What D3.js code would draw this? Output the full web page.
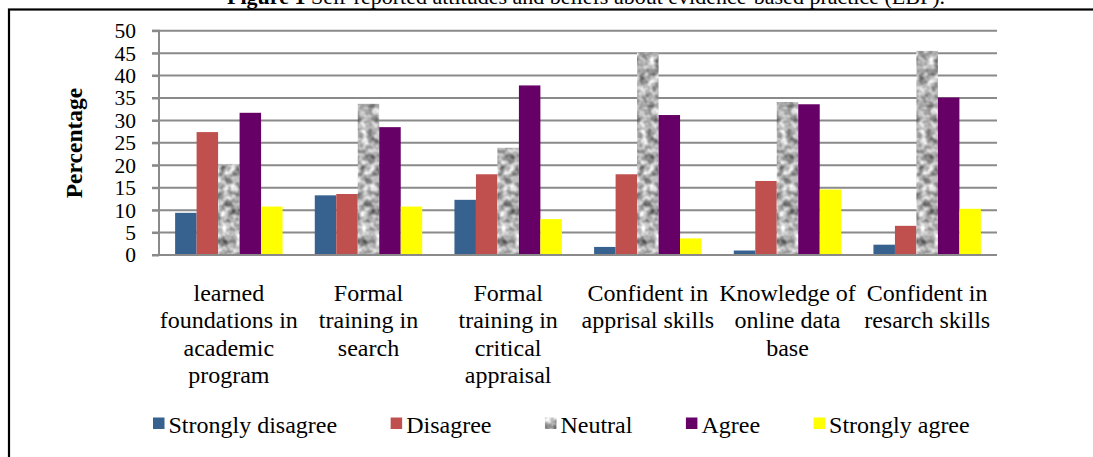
<!DOCTYPE html>
<html>
<head>
<meta charset="utf-8">
<script src="https://cdn.jsdelivr.net/npm/d3@7"></script>
<style>
  html, body { margin: 0; padding: 0; background: #fff; }
  svg { display: block; }
  text { font-family: "Liberation Serif", "Times New Roman", serif; fill: #000; }
</style>
</head>
<body>
<svg id="chart" width="1093" height="457"></svg>
<script>
// Survey items (x-axis categories), one label line per array entry
const categories = [
  ["learned", "foundations in", "academic", "program"],
  ["Formal", "training in", "search"],
  ["Formal", "training in", "critical", "appraisal"],
  ["Confident in", "apprisal skills"],
  ["Knowledge of", "online data", "base"],
  ["Confident in", "resarch skills"]
];

// Response levels
const seriesNames = ["Strongly disagree", "Disagree", "Neutral", "Agree", "Strongly agree"];

// Percentages per response level, in category order
const stronglyDisagree = [9.4, 13.3, 12.3, 1.8, 1.0, 2.3];
const disagree         = [27.4, 13.6, 18.0, 18.0, 16.5, 6.5];
const neutral          = [20.3, 33.7, 23.9, 45.1, 34.1, 45.5];
const agree            = [31.7, 28.5, 37.8, 31.2, 33.6, 35.1];
const stronglyAgree    = [10.8, 10.8, 8.0, 3.7, 14.6, 10.3];

const yTicks = [0, 5, 10, 15, 20, 25, 30, 35, 40, 45, 50];

const seriesValues = [stronglyDisagree, disagree, neutral, agree, stronglyAgree];
const fills = ["#37618f", "#c0504d", "url(#granite)", "#660066", "#ffff00"];

const svg = d3.select("#chart");

// Granite-like grey texture for the "Neutral" bars
const defs = svg.append("defs");
const flt = defs.append("filter").attr("id", "graniteNoise")
  .attr("x", 0).attr("y", 0).attr("width", 1).attr("height", 1)
  .attr("filterUnits", "objectBoundingBox")
  .attr("color-interpolation-filters", "sRGB");
flt.append("feTurbulence").attr("type", "fractalNoise")
  .attr("baseFrequency", 0.13).attr("numOctaves", 2).attr("seed", 7).attr("result", "noise");
flt.append("feColorMatrix").attr("in", "noise").attr("type", "matrix")
  .attr("values", "1.05 0 0 0 0.17  1.05 0 0 0 0.17  1.05 0 0 0 0.17  0 0 0 0 1")
  .attr("result", "grey");
flt.append("feGaussianBlur").attr("in", "grey").attr("stdDeviation", 0.6).attr("result", "soft");
flt.append("feComposite").attr("in", "soft").attr("in2", "SourceGraphic").attr("operator", "in");

const pat = defs.append("pattern").attr("id", "granite")
  .attr("patternUnits", "userSpaceOnUse").attr("width", 1093).attr("height", 457);
pat.append("rect").attr("width", 1093).attr("height", 457).attr("fill", "#bbb")
  .attr("filter", "url(#graniteNoise)");

// Figure caption, partly clipped by the top edge
const title = svg.append("text").attr("x", 586).attr("y", 4)
  .attr("text-anchor", "middle").style("font-size", "22px");
title.append("tspan").style("font-weight", "bold").text("Figure 1");
title.append("tspan").text(" Self-reported attitudes and beliefs about evidence-based practice (EBP).");

// Frame around the chart
svg.append("rect").attr("x", 9).attr("y", 9.5).attr("width", 1100).attr("height", 470)
  .attr("fill", "none").attr("stroke", "#000").attr("stroke-width", 2.2);

// Scales
const x0 = d3.scaleBand().domain(d3.range(categories.length)).range([159, 997]).padding(0);
const x1 = d3.scaleBand().domain(d3.range(seriesNames.length))
  .range([0, x0.bandwidth()]).paddingInner(0).paddingOuter(0.75);
const y = d3.scaleLinear().domain([0, 50]).range([255, 30.7]);

// Gridlines
svg.append("g").selectAll("line").data(yTicks).join("line")
  .attr("x1", 152).attr("x2", 997)
  .attr("y1", d => y(d)).attr("y2", d => y(d))
  .attr("stroke", "#8a8a8a").attr("stroke-width", 2);

// Y axis with labels
const yAxis = d3.axisLeft(y).tickValues(yTicks).tickSize(7).tickPadding(16);
const gy = svg.append("g").attr("transform", "translate(159,0)").call(yAxis);
gy.select(".domain").attr("stroke", "#8a8a8a").attr("stroke-width", 2).attr("d", `M-7,${y(50)}H0V${y(0)}H-7`);
gy.selectAll(".tick line").attr("stroke", "#8a8a8a").attr("stroke-width", 2);
gy.selectAll(".tick text").style("font-size", "21.5px").style("font-family", "Liberation Serif").attr("fill", "#000");

// Y axis title
svg.append("text").attr("transform", "translate(82,143) rotate(-90)")
  .attr("text-anchor", "middle").style("font-size", "23.5px").style("font-weight", "bold")
  .text("Percentage");

// Bars
const groups = svg.append("g").selectAll("g").data(categories).join("g")
  .attr("transform", (d, i) => `translate(${x0(i)},0)`);
groups.selectAll("rect")
  .data((d, i) => seriesValues.map((vals, s) => ({ s, v: vals[i] })))
  .join("rect")
  .attr("x", d => x1(d.s))
  .attr("y", d => y(d.v))
  .attr("width", x1.bandwidth())
  .attr("height", d => y(0) - y(d.v))
  .attr("fill", d => fills[d.s]);

// Baseline over the bars' feet
svg.append("line").attr("x1", 152).attr("x2", 997).attr("y1", y(0)).attr("y2", y(0))
  .attr("stroke", "#8a8a8a").attr("stroke-width", 2);

// Category labels
const catLabels = svg.append("g").selectAll("text").data(categories).join("text")
  .attr("x", (d, i) => x0(i) + x0.bandwidth() / 2)
  .attr("y", 301)
  .attr("text-anchor", "middle").style("font-size", "24px");
catLabels.selectAll("tspan").data(d => d).join("tspan")
  .attr("x", function () { return this.parentNode.getAttribute("x"); })
  .attr("dy", (d, i) => i === 0 ? 0 : 27.4)
  .text(d => d);

// Legend laid out left to right
let lx = 153;
seriesNames.forEach((name, s) => {
  svg.append("rect").attr("x", lx).attr("y", 417.5).attr("width", 11.5).attr("height", 11.5)
    .attr("fill", fills[s]);
  const t = svg.append("text").attr("x", lx + 15.5).attr("y", 432.5)
    .style("font-size", "24px").text(name);
  lx += 15.5 + t.node().getComputedTextLength() + 53.5;
});
</script>
</body>
</html>
